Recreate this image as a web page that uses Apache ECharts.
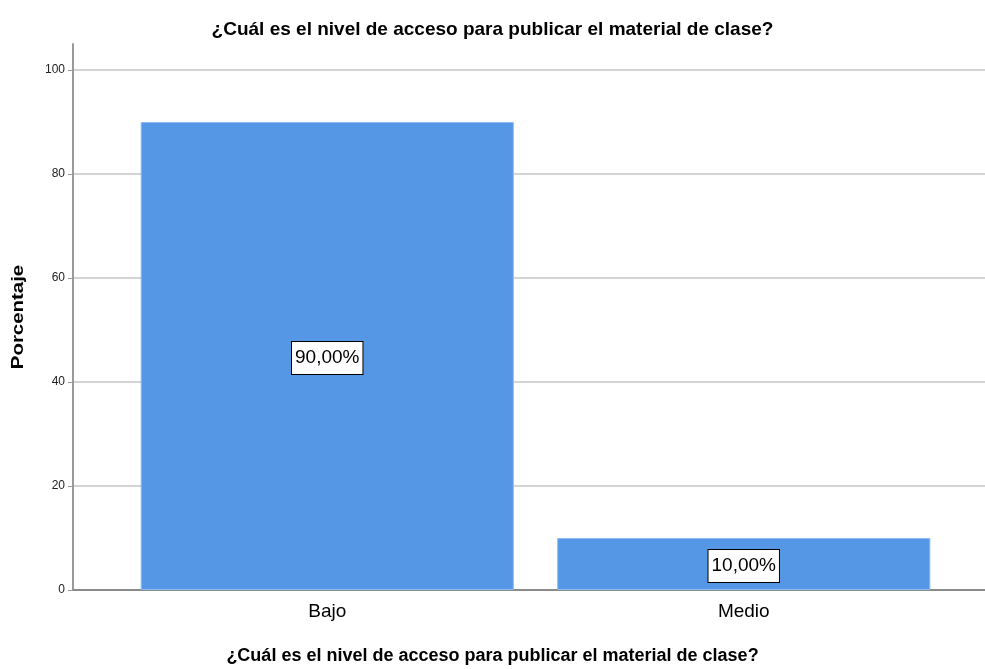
<!DOCTYPE html>
<html>
<head>
<meta charset="utf-8">
<script src="https://cdn.jsdelivr.net/npm/echarts@6/dist/echarts.min.js"></script>
<style>
html,body{margin:0;padding:0;background:#fff;}
#chart{width:985px;height:669px;}
</style>
</head>
<body>
<div id="chart"></div>
<script>
const titleText = '¿Cuál es el nivel de acceso para publicar el material de clase?';
const categories = ['Bajo', 'Medio'];
const percentages = [90, 10];
const yTicks = [0, 20, 40, 60, 80, 100];
const yAxisName = 'Porcentaje';

const FONT = 'Liberation Sans, Arial, sans-serif';
const chart = echarts.init(document.getElementById('chart'));
chart.setOption({
  backgroundColor: '#fff',
  animation: false,
  title: {
    text: titleText,
    left: 'center',
    top: 15,
    textStyle: { fontFamily: FONT, fontSize: 19, fontWeight: 'bold', color: '#000' }
  },
  graphic: [{
    type: 'text',
    left: 'center',
    top: 647,
    style: { text: titleText, fontFamily: FONT, fontSize: 18, fontWeight: 'bold', fill: '#000' }
  }, {
    type: 'text',
    x: 18,
    y: 317,
    rotation: Math.PI / 2,
    scaleX: 1.2,
    style: { text: yAxisName, fontFamily: FONT, fontSize: 17, fontWeight: 'bold', fill: '#000',
      align: 'center', verticalAlign: 'middle' }
  }],
  grid: [
    { left: 73, right: 0, top: 44, bottom: 79 },
    { left: 119, width: 833, top: 44, bottom: 79 }
  ],
  xAxis: [
    { gridIndex: 0, type: 'category', data: [''], axisLine: { lineStyle: { color: '#8a8a8a', width: 2 } },
      axisTick: { show: false }, axisLabel: { show: false }, splitLine: { show: false } },
    { gridIndex: 1, type: 'category', data: categories, axisLine: { show: false }, axisTick: { show: false },
      axisLabel: { color: '#000', fontFamily: FONT, fontSize: 19, margin: 12 } }
  ],
  yAxis: [
    { gridIndex: 0, type: 'value', min: 0, max: 105, interval: 20,
      axisLine: { show: true, lineStyle: { color: '#9a9a9a', width: 2 } },
      axisTick: { show: true, length: 5, lineStyle: { color: '#9a9a9a' } },
      axisLabel: { color: '#222', fontFamily: FONT, fontSize: 12, margin: 8, showMaxLabel: false,
        formatter: v => (yTicks.indexOf(v) >= 0 ? String(v) : '') },
      splitLine: { show: true, showMaxLine: false, lineStyle: { color: '#d4d4d4', width: 2 } } },
    { gridIndex: 1, type: 'value', min: 0, max: 105, show: false, splitLine: { show: false } }
  ],
  series: [{
    type: 'bar',
    xAxisIndex: 1,
    yAxisIndex: 1,
    data: percentages,
    barCategoryGap: '10.4%',
    itemStyle: { color: '#5596e5', borderColor: '#8fbcf0', borderWidth: 1 },
    label: {
      show: true,
      position: 'inside',
      offset: [0, 2],
      formatter: p => p.value.toFixed(2).replace('.', ',') + '%',
      color: '#000',
      fontFamily: FONT,
      fontSize: 19,
      backgroundColor: '#fff',
      borderColor: '#000',
      borderWidth: 1,
      padding: [7, 3, 6, 3]
    }
  }]
});
</script>
</body>
</html>
